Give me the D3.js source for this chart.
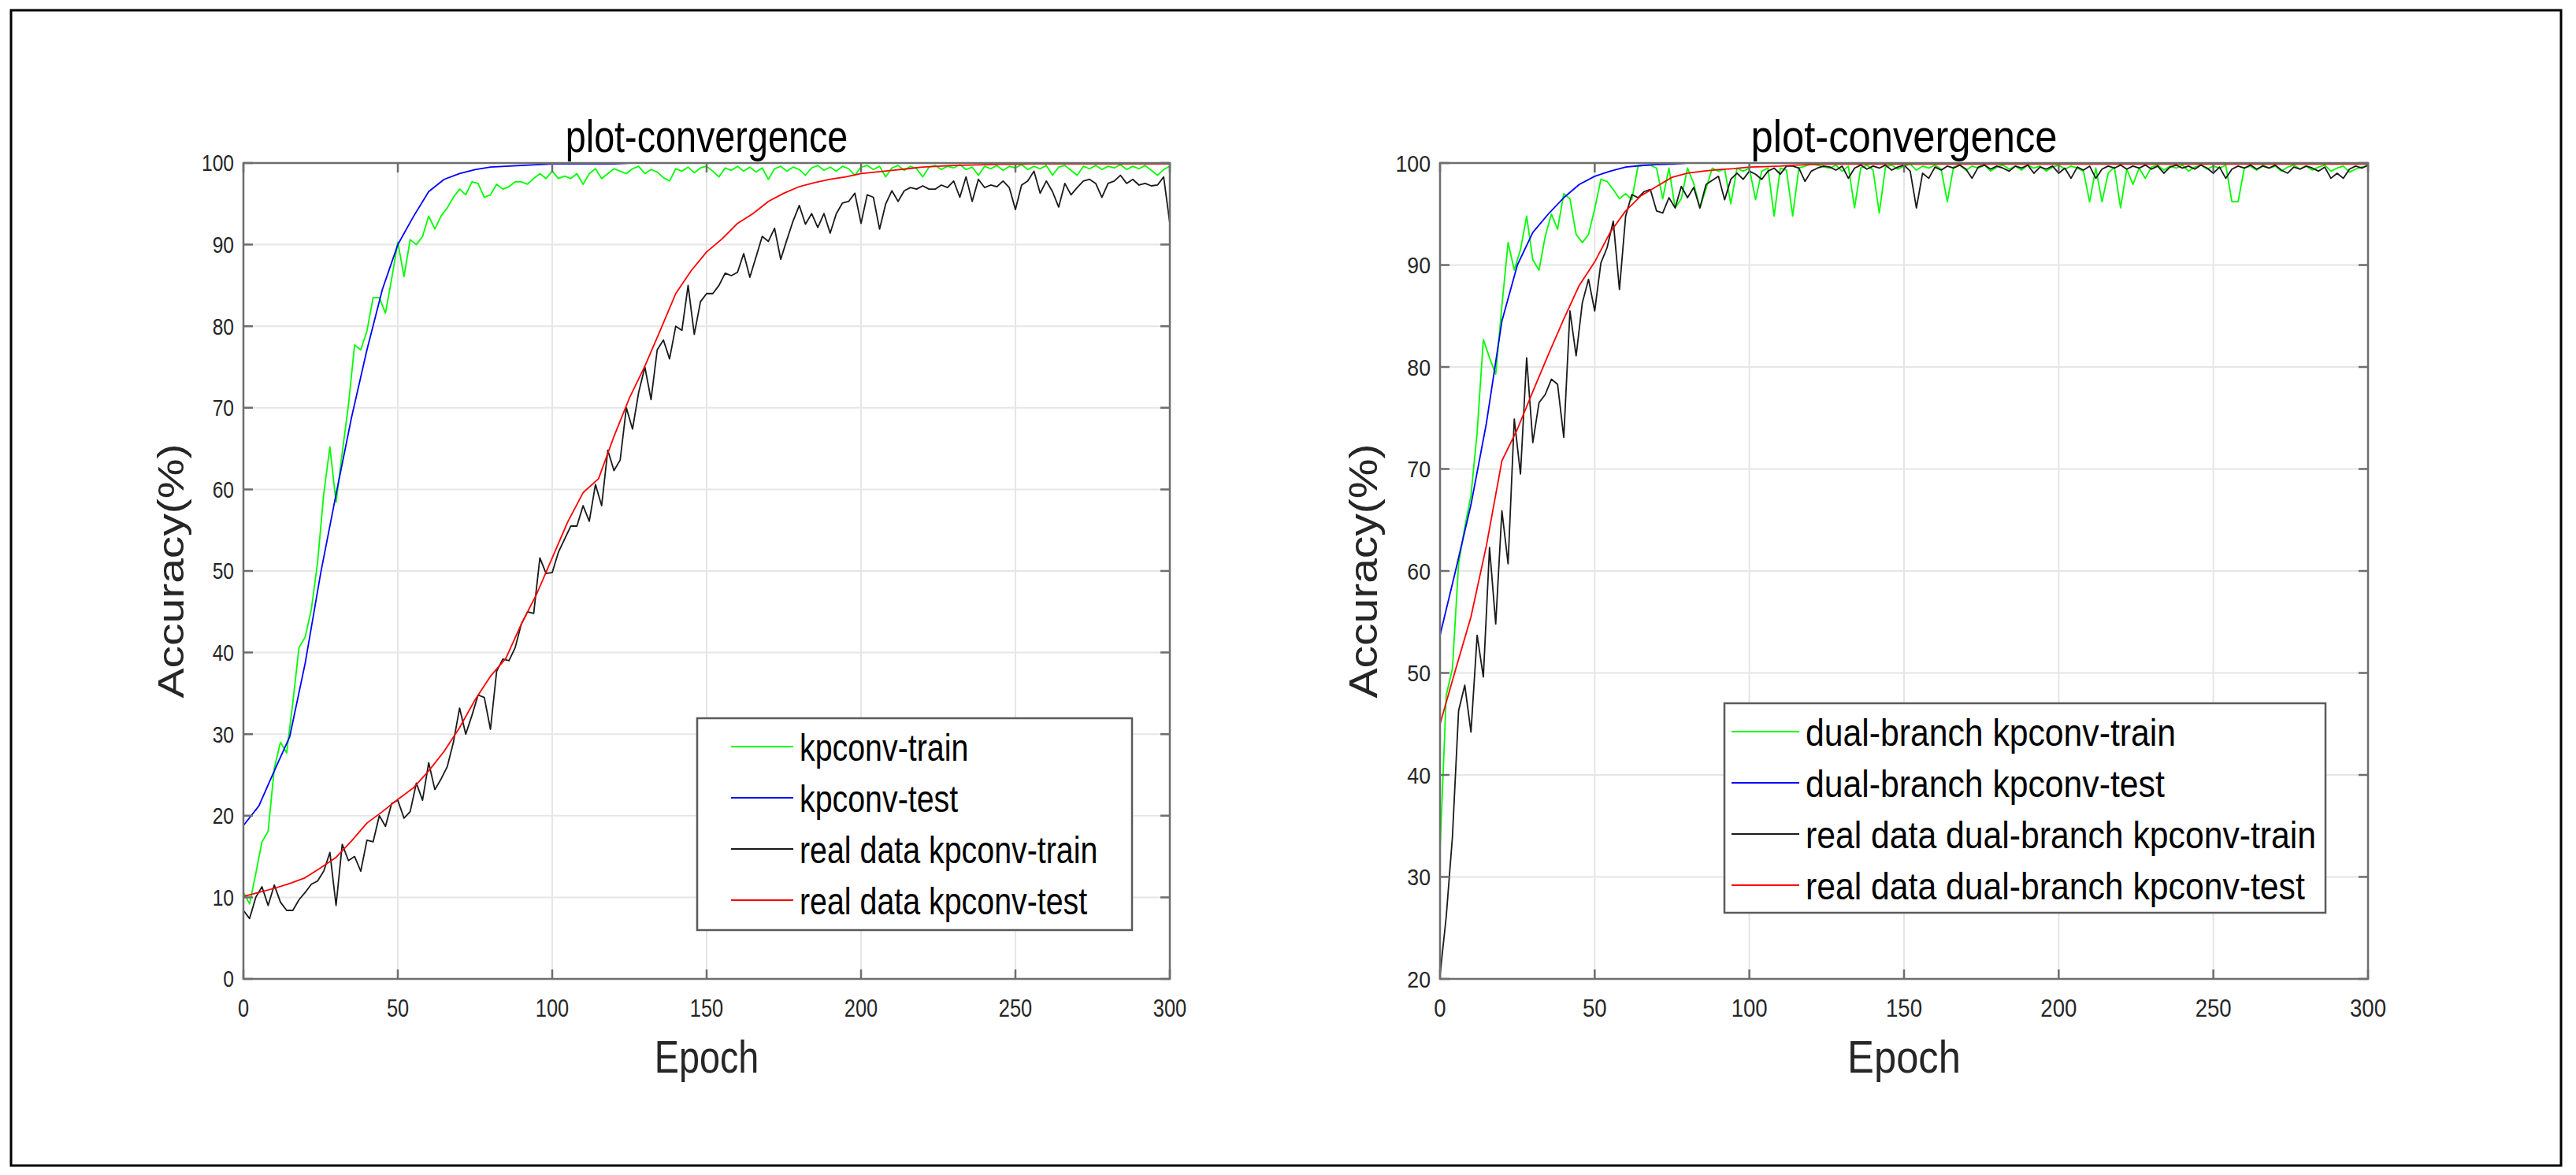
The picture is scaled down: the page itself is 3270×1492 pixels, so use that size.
<!DOCTYPE html>
<html>
<head>
<meta charset="utf-8">
<script src="https://cdn.jsdelivr.net/npm/d3@7"></script>
<style>
  html, body { margin: 0; padding: 0; background: #fff; }
  svg { display: block; }
  text { font-family: "Liberation Sans", Arial, sans-serif; }
</style>
</head>
<body>
<svg id="chart" width="3270" height="1492"></svg>
<script>
// epochs: train curves read every 2 epochs, test curves every 5 epochs
const trainEpochs = d3.range(0, 301, 2);
const testEpochs = d3.range(0, 301, 5);
const xTicks = [0, 50, 100, 150, 200, 250, 300];

// left panel: kpconv
const kpTrain = [
    10.6, 9.2, 12.9, 16.8, 18.1, 25.8, 29.0, 27.7, 33.9, 40.6,
    41.9, 45.3, 51.0, 59.4, 65.2, 58.4, 64.5, 70.3, 77.7, 77.1,
    79.4, 83.5, 83.5, 81.6, 85.8, 90.3, 86.1, 90.6, 90.0, 91.0,
    93.5, 91.9, 93.5, 94.5, 95.8, 96.8, 96.1, 97.7, 97.5, 95.8,
    96.1, 97.4, 96.8, 97.1, 97.7, 97.7, 97.4, 98.1, 98.7, 98.1,
    99.0, 98.1, 98.4, 98.1, 98.7, 97.4, 98.7, 99.3, 98.1, 98.7,
    99.3, 99.0, 98.7, 99.3, 99.6, 98.7, 99.2, 98.9, 98.2, 97.8,
    99.3, 99.0, 99.5, 98.8, 99.4, 99.6, 99.0, 98.3, 99.4, 99.1,
    99.6, 99.0, 99.5, 98.9, 99.4, 98.0, 99.3, 99.6, 99.0, 99.5,
    99.2, 98.5, 99.4, 99.7, 99.1, 99.5, 99.0, 99.6, 99.3, 98.5,
    99.5, 99.7, 99.2, 99.6, 98.3, 99.4, 99.7, 99.1, 99.6, 99.3,
    98.3, 99.5, 99.7, 99.2, 99.6, 99.4, 99.8, 99.2, 99.5, 98.5,
    99.6, 99.3, 99.7, 99.1, 99.6, 99.4, 99.8, 99.2, 99.6, 99.3,
    99.7, 98.5, 99.5, 99.7, 99.1, 98.5, 99.6, 99.3, 99.7, 99.2,
    99.6, 99.4, 99.8, 99.2, 99.6, 99.3, 99.7, 99.1, 98.5, 99.2,
    99.6
];
const kpTest = [
    18.8, 21.2, 25.5, 29.7, 38.7, 49.7, 59.4, 68.8, 77.1, 84.5,
    90.0, 93.4, 96.5, 98.0, 98.7, 99.2, 99.5, 99.6, 99.7, 99.8,
    99.9, 99.9, 99.9, 99.9, 99.9, 100, 100, 100, 100, 100,
    100, 100, 100, 100, 100, 100, 100, 100, 100, 100,
    100, 100, 100, 100, 100, 100, 100, 100, 100, 100,
    100, 100, 100, 100, 100, 100, 100, 100, 100, 100,
    100
];
const kpRealTrain = [
    8.4, 7.4, 10.0, 11.3, 9.0, 11.5, 9.4, 8.4, 8.4, 9.7,
    10.6, 11.6, 12.0, 13.2, 15.5, 9.0, 16.5, 14.5, 15.0, 13.2,
    17.0, 16.8, 20.0, 18.7, 21.5, 21.9, 19.7, 20.5, 24.0, 21.9,
    26.5, 23.2, 24.5, 26.0, 29.0, 33.2, 30.0, 32.3, 34.8, 34.5,
    30.6, 37.7, 39.2, 39.0, 40.6, 43.5, 45.0, 44.8, 51.6, 49.7,
    49.8, 52.3, 53.9, 55.5, 55.5, 58.0, 56.1, 60.6, 58.0, 64.8,
    62.3, 63.6, 70.0, 67.4, 71.9, 75.0, 71.0, 77.1, 78.3, 76.0,
    80.0, 79.5, 85.0, 79.0, 83.0, 84.0, 84.0, 85.0, 86.5, 86.2,
    86.6, 88.9, 86.0, 88.5, 91.0, 90.4, 92.0, 88.2, 90.6, 92.9,
    94.8, 92.5, 93.8, 92.1, 93.8, 91.4, 93.8, 95.1, 95.3, 96.3,
    92.6, 96.1, 95.8, 91.9, 95.0, 96.6, 95.3, 96.6, 97.0, 96.8,
    97.2, 96.8, 96.8, 97.3, 97.0, 97.8, 95.8, 98.3, 95.3, 98.0,
    97.0, 97.3, 97.1, 97.8, 97.0, 94.3, 97.3, 97.8, 99.0, 96.3,
    97.8, 96.5, 94.6, 97.5, 96.1, 97.0, 97.8, 98.0, 97.5, 95.8,
    97.5, 97.8, 98.5, 97.5, 98.0, 97.3, 97.5, 97.2, 97.3, 98.3,
    92.6
];
const kpRealTest = [
    10.1, 10.6, 11.1, 11.7, 12.4, 13.6, 14.9, 16.9, 19.1, 20.5,
    22.0, 23.4, 25.5, 27.9, 30.8, 34.2, 37.1, 39.3, 43.5, 47.2,
    51.6, 56.0, 59.6, 61.3, 66.5, 71.2, 75.1, 79.5, 84.0, 86.8,
    89.1, 90.7, 92.6, 93.8, 95.3, 96.3, 97.1, 97.6, 98.0, 98.3,
    98.7, 98.9, 99.1, 99.3, 99.5, 99.6, 99.7, 99.75, 99.8, 99.85,
    99.85, 99.9, 99.9, 99.9, 99.9, 99.9, 99.9, 99.9, 99.9, 99.9,
    99.9
];

// right panel: dual-branch kpconv
const dualTrain = [
    32.6, 47.8, 50.4, 60.7, 64.3, 67.4, 73.6, 82.7, 80.9, 79.3,
    86.0, 92.2, 89.5, 91.5, 94.8, 90.5, 89.5, 92.8, 95.0, 93.5,
    97.0, 96.5, 93.0, 92.2, 93.0, 95.5, 98.4, 98.2, 97.4, 96.5,
    97.0, 96.4, 99.7, 99.8, 99.8, 99.5, 96.5, 99.5, 95.6, 96.5,
    99.5, 98.0, 95.6, 97.5, 99.5, 99.2, 99.4, 96.0, 99.5, 99.2,
    99.5, 96.4, 99.2, 99.5, 94.8, 99.5, 99.3, 94.8, 99.5, 99.7,
    99.9, 99.8, 99.6, 99.5, 99.8, 99.2, 99.7, 95.6, 99.5, 99.8,
    99.3, 95.1, 99.6, 99.8, 99.4, 99.7, 99.9, 99.3, 99.7, 99.5,
    99.8, 99.4, 96.2, 99.6, 99.8, 99.3, 99.7, 99.5, 99.8, 99.2,
    99.6, 99.8, 99.4, 99.7, 99.3, 99.8, 99.5, 99.7, 99.2, 99.6,
    99.8, 99.4, 99.7, 99.5, 99.2, 96.2, 99.5, 96.2, 99.0, 99.6,
    95.6, 99.4, 97.9, 99.5, 98.5, 99.6, 99.8, 99.3, 99.7, 99.5,
    99.8, 99.2, 99.6, 99.8, 99.4, 99.7, 99.5, 99.8, 96.2, 96.2,
    99.5, 99.7, 99.3, 99.8, 99.5, 99.7, 99.2, 99.6, 99.8, 99.4,
    99.7, 99.3, 99.6, 99.8, 99.2, 99.5, 99.7, 99.1, 99.4, 99.6,
    99.7
];
const dualTest = [
    53.7, 60.0, 66.5, 74.5, 84.5, 90.0, 93.2, 95.0, 96.6, 97.9,
    98.7, 99.2, 99.6, 99.75, 99.85, 99.9, 100, 100, 100, 100,
    100, 100, 100, 100, 100, 100, 100, 100, 100, 100,
    100, 100, 100, 100, 100, 100, 100, 100, 100, 100,
    100, 100, 100, 100, 100, 100, 100, 100, 100, 100,
    100, 100, 100, 100, 100, 100, 100, 100, 100, 100,
    100
];
const dualRealTrain = [
    20.4, 26.1, 33.9, 46.3, 48.8, 44.2, 53.7, 49.6, 62.3, 54.8,
    65.9, 60.7, 74.9, 69.5, 80.9, 72.6, 76.5, 77.3, 78.8, 78.3,
    73.1, 85.5, 81.1, 86.3, 88.6, 85.5, 90.2, 91.7, 94.3, 87.6,
    94.8, 96.9, 96.6, 97.2, 97.4, 95.3, 95.1, 96.6, 95.6, 97.7,
    96.6, 97.6, 95.6, 97.9, 98.3, 98.7, 96.4, 98.4, 99.0, 98.4,
    99.2, 98.9, 98.4, 99.2, 99.5, 98.9, 99.7, 99.7, 99.5, 98.2,
    99.2, 99.5, 99.7, 99.6, 99.3, 99.7, 98.5, 99.5, 99.8, 99.4,
    99.7, 99.5, 99.8, 99.3, 99.6, 99.8, 99.2, 95.6, 99.0, 98.5,
    99.6, 99.3, 99.7, 99.5, 99.8, 99.4, 98.5, 99.6, 99.8, 99.4,
    99.7, 99.5, 99.2, 99.7, 99.5, 99.8, 99.0, 99.6, 99.4, 99.7,
    99.0, 99.5, 98.5, 99.6, 99.3, 99.7, 98.5, 99.4, 99.7, 99.5,
    99.8, 99.4, 99.7, 99.5, 99.8, 99.4, 99.7, 99.0, 99.6, 99.8,
    99.5, 99.7, 99.4, 99.8, 99.5, 99.0, 99.6, 98.5, 99.4, 99.7,
    99.5, 99.8, 99.4, 99.7, 99.5, 99.8, 99.3, 99.0, 99.6, 99.4,
    99.7, 99.5, 99.2, 99.6, 98.5, 99.0, 98.5, 99.4, 99.7, 99.5,
    99.8
];
const dualRealTest = [
    45.0, 50.3, 55.5, 62.5, 70.8, 73.9, 77.6, 81.2, 84.7, 88.0,
    90.3, 93.2, 95.3, 96.8, 97.7, 98.6, 99.0, 99.2, 99.35, 99.45,
    99.6, 99.65, 99.7, 99.8, 99.85, 99.9, 99.9, 99.9, 99.9, 99.9,
    99.9, 99.9, 99.9, 99.9, 99.9, 99.9, 99.9, 99.9, 99.9, 99.9,
    99.9, 99.9, 99.9, 99.9, 99.9, 99.9, 99.9, 99.9, 99.9, 99.9,
    99.9, 99.9, 99.9, 99.9, 99.9, 99.9, 99.9, 99.9, 99.9, 99.9,
    99.9
];

const leftNames = ["kpconv-train", "kpconv-test", "real data kpconv-train", "real data kpconv-test"];
const rightNames = ["dual-branch kpconv-train", "dual-branch kpconv-test",
    "real data dual-branch kpconv-train", "real data dual-branch kpconv-test"];
const lineColors = ["#00ff00", "#0000ff", "#1a1a1a", "#ff0000"];

const axisColor = "#6e6e6e";
const textColor = "#262626";

const svg = d3.select("#chart");
svg.append("rect").attr("width", 3270).attr("height", 1492).attr("fill", "#fff");
svg.append("rect")
    .attr("x", 14).attr("y", 13).attr("width", 3237).attr("height", 1467)
    .attr("fill", "none").attr("stroke", "#000").attr("stroke-width", 3);

// the source figure is squeezed sideways, so its text is too (each panel a bit differently)
function addText(g, x, y, str, size, squeeze, opts = {}) {
    let tf = `translate(${x},${y}) scale(${squeeze},1)`;
    if (opts.rotate) tf += " rotate(-90)";
    return g.append("text")
        .attr("transform", tf)
        .attr("text-anchor", opts.anchor || "start")
        .attr("dominant-baseline", opts.baseline || "alphabetic")
        .attr("font-size", size)
        .attr("fill", opts.color || textColor)
        .text(str);
}

function drawPanel(cfg) {
    const g = svg.append("g");
    const sq = cfg.squeeze;
    const x = d3.scaleLinear().domain([0, 300]).range([cfg.x0, cfg.x1]);
    const y = d3.scaleLinear().domain(cfg.yDomain).range([cfg.y1, cfg.y0]);
    const yTicks = d3.range(cfg.yDomain[0], cfg.yDomain[1] + 1, 10);

    // grid
    g.append("g").selectAll("line").data(xTicks.slice(1, -1)).join("line")
        .attr("x1", (d) => x(d)).attr("x2", (d) => x(d))
        .attr("y1", cfg.y0).attr("y2", cfg.y1)
        .attr("stroke", "#e6e6e6").attr("stroke-width", 2);
    g.append("g").selectAll("line").data(yTicks.slice(1, -1)).join("line")
        .attr("x1", cfg.x0).attr("x2", cfg.x1)
        .attr("y1", (d) => y(d)).attr("y2", (d) => y(d))
        .attr("stroke", "#e6e6e6").attr("stroke-width", 2);

    // curves
    const line = d3.line().x((d) => x(d[0])).y((d) => y(d[1]));
    cfg.series.forEach((s, i) => {
        const pts = s.epochs.map((e, k) => [e, s.values[k]]);
        g.append("path")
            .datum(pts)
            .attr("d", line)
            .attr("fill", "none")
            .attr("stroke", lineColors[i])
            .attr("stroke-width", 1.8)
            .attr("stroke-linejoin", "round");
    });

    // box and ticks
    g.append("rect")
        .attr("x", cfg.x0).attr("y", cfg.y0)
        .attr("width", cfg.x1 - cfg.x0).attr("height", cfg.y1 - cfg.y0)
        .attr("fill", "none").attr("stroke", axisColor).attr("stroke-width", 2.5);
    const tl = 12;
    g.append("g").selectAll("path").data(yTicks).join("path")
        .attr("d", (d) => `M${cfg.x0},${y(d)}h${tl}M${cfg.x1},${y(d)}h${-tl}`)
        .attr("stroke", axisColor).attr("stroke-width", 2.5);
    g.append("g").selectAll("path").data(xTicks).join("path")
        .attr("d", (d) => `M${x(d)},${cfg.y1}v${-tl}M${x(d)},${cfg.y0}v${tl}`)
        .attr("stroke", axisColor).attr("stroke-width", 2.5);

    // tick labels
    yTicks.forEach((d) => addText(g, cfg.x0 - 12, y(d), d, 30, sq, { anchor: "end", baseline: "central" }));
    xTicks.forEach((d) => addText(g, x(d), cfg.y1 + 48, d, 31, sq, { anchor: "middle" }));

    // titles
    const cx = (cfg.x0 + cfg.x1) / 2;
    addText(g, cx, 193, "plot-convergence", 57, sq, { anchor: "middle", color: "#000" });
    addText(g, cx, 1362, "Epoch", 57, sq, { anchor: "middle" });
    addText(g, cfg.yLabelX, (cfg.y0 + cfg.y1) / 2, "Accuracy(%)", 57, sq, { anchor: "middle", rotate: true });

    // legend
    const lg = cfg.legend;
    g.append("rect")
        .attr("x", lg.x).attr("y", lg.y).attr("width", lg.w).attr("height", lg.h)
        .attr("fill", "#fff").attr("stroke", "#5a5a5a").attr("stroke-width", 2.5);
    cfg.names.forEach((name, i) => {
        const ry = lg.y + 36 + i * 65;
        g.append("line")
            .attr("x1", lg.x + lg.l0).attr("x2", lg.x + lg.l1)
            .attr("y1", ry).attr("y2", ry)
            .attr("stroke", lineColors[i]).attr("stroke-width", 1.8);
        addText(g, lg.x + lg.l1 + 8, ry + 18, name, 48, sq, { color: "#000" });
    });
}

drawPanel({
    x0: 309, x1: 1485, y0: 207, y1: 1243,
    yDomain: [0, 100],
    yLabelX: 233,
    squeeze: 0.82,
    names: leftNames,
    series: [
        { epochs: trainEpochs, values: kpTrain },
        { epochs: testEpochs, values: kpTest },
        { epochs: trainEpochs, values: kpRealTrain },
        { epochs: testEpochs, values: kpRealTest },
    ],
    legend: { x: 885, y: 912, w: 552, h: 269, l0: 43, l1: 122 },
});

drawPanel({
    x0: 1828, x1: 3006, y0: 207, y1: 1243,
    yDomain: [20, 100],
    yLabelX: 1748,
    squeeze: 0.89,
    names: rightNames,
    series: [
        { epochs: trainEpochs, values: dualTrain },
        { epochs: testEpochs, values: dualTest },
        { epochs: trainEpochs, values: dualRealTrain },
        { epochs: testEpochs, values: dualRealTest },
    ],
    legend: { x: 2189, y: 893, w: 763, h: 266, l0: 9, l1: 95 },
});
</script>
</body>
</html>
